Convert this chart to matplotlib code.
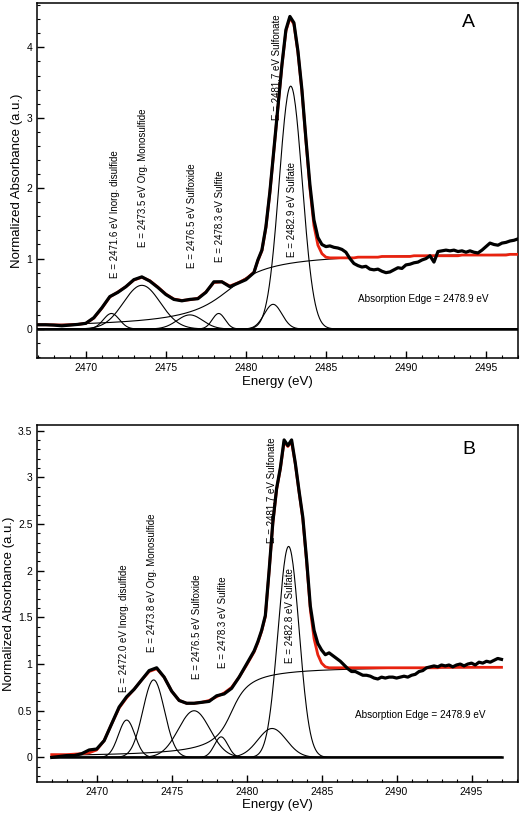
import numpy as np
import matplotlib
matplotlib.use('Agg')
import matplotlib.pyplot as plt
from matplotlib.ticker import MultipleLocator, FuncFormatter

plt.rcParams['font.family'] = ['Liberation Sans', 'DejaVu Sans']

# energy grid of the measured spectra (coarse below the white line, finer above)
energy = np.concatenate([np.arange(2467.0, 2480.51, 0.5), np.arange(2480.75, 2497.01, 0.25)])

# ---- panel A ----
data_a = [0.06, 0.06, 0.055, 0.045, 0.055, 0.065, 0.08, 0.16, 0.30, 0.46, 0.52, 0.60, 0.70, 0.74,
          0.68, 0.59, 0.49, 0.42, 0.40, 0.42, 0.43, 0.52, 0.67, 0.67, 0.60, 0.65, 0.70, 0.80,
          0.98, 1.12, 1.45, 1.95, 2.55, 3.15, 3.75, 4.25, 4.44, 4.35, 3.95, 3.40, 2.70, 2.05,
          1.55, 1.30, 1.20, 1.17, 1.18, 1.16, 1.15, 1.13, 1.09, 1.00, 0.93, 0.90, 0.88, 0.89,
          0.85, 0.84, 0.85, 0.82, 0.80, 0.81, 0.84, 0.87, 0.86, 0.91, 0.92, 0.94, 0.95, 0.98,
          1.00, 1.04, 0.95, 1.10, 1.11, 1.12, 1.11, 1.12, 1.10, 1.11, 1.09, 1.11, 1.09, 1.08,
          1.12, 1.17, 1.22, 1.20, 1.19, 1.22, 1.23, 1.25, 1.26, 1.28]
fit_a = [0.06, 0.06, 0.058, 0.055, 0.058, 0.065, 0.08, 0.155, 0.295, 0.455, 0.525, 0.60, 0.695, 0.735,
         0.685, 0.595, 0.495, 0.425, 0.405, 0.415, 0.435, 0.525, 0.66, 0.67, 0.61, 0.655, 0.71, 0.805,
         0.97, 1.11, 1.44, 1.94, 2.54, 3.14, 3.74, 4.23, 4.42, 4.33, 3.93, 3.38, 2.68, 2.00,
         1.47, 1.19, 1.07, 1.02, 1.01, 1.01, 1.01, 1.01, 1.01, 1.01, 1.01, 1.02, 1.02, 1.02,
         1.02, 1.02, 1.02, 1.03, 1.03, 1.03, 1.03, 1.03, 1.03, 1.03, 1.03, 1.04, 1.04, 1.04,
         1.04, 1.04, 1.04, 1.04, 1.04, 1.04, 1.04, 1.04, 1.04, 1.05, 1.05, 1.05, 1.05, 1.05,
         1.05, 1.05, 1.05, 1.05, 1.05, 1.05, 1.05, 1.06, 1.06, 1.06]
centers_a = [2471.6, 2473.5, 2476.5, 2478.3, 2481.7, 2482.8]
heights_a = [0.22, 0.62, 0.20, 0.22, 0.35, 3.45]
sigmas_a = [0.5, 1.15, 0.8, 0.4, 0.55, 0.72]
edge_a = (2478.9, 1.10, 2.0)  # position, height, width
labels_a = ['E = 2471.6 eV Inorg. disulfide', 'E = 2473.5 eV Org. Monosulfide',
            'E = 2476.5 eV Sulfoxide', 'E = 2478.3 eV Sulfite',
            'E = 2481.7 eV Sulfonate', 'E = 2482.9 eV Sulfate']
label_x_a = [2471.8, 2473.6, 2476.65, 2478.4, 2481.95, 2482.9]
label_y_a = [0.73, 1.17, 0.87, 0.95, 2.97, 1.02]

# ---- panel B ----
data_b = [0.00, 0.01, 0.02, 0.02, 0.04, 0.08, 0.09, 0.18, 0.36, 0.54, 0.65, 0.73, 0.83, 0.93,
          0.96, 0.86, 0.71, 0.61, 0.58, 0.58, 0.59, 0.60, 0.66, 0.68, 0.74, 0.86, 1.00, 1.14,
          1.24, 1.36, 1.52, 2.00, 2.52, 2.88, 3.10, 3.40, 3.34, 3.40, 3.15, 2.85, 2.57, 2.12,
          1.62, 1.36, 1.22, 1.15, 1.10, 1.12, 1.09, 1.06, 1.03, 0.99, 0.95, 0.92, 0.92, 0.90,
          0.88, 0.88, 0.87, 0.85, 0.84, 0.86, 0.85, 0.86, 0.86, 0.85, 0.86, 0.87, 0.86, 0.88,
          0.89, 0.92, 0.93, 0.96, 0.97, 0.98, 0.97, 0.99, 0.98, 0.99, 0.97, 0.99, 1.00, 0.98,
          1.00, 1.01, 0.99, 1.02, 1.01, 1.03, 1.02, 1.04, 1.06, 1.05]
fit_b = [0.03, 0.03, 0.03, 0.035, 0.04, 0.05, 0.08, 0.18, 0.36, 0.53, 0.64, 0.73, 0.83, 0.92,
         0.95, 0.86, 0.71, 0.61, 0.58, 0.58, 0.59, 0.61, 0.65, 0.69, 0.75, 0.86, 0.99, 1.13,
         1.23, 1.35, 1.51, 1.99, 2.51, 2.87, 3.09, 3.38, 3.33, 3.38, 3.14, 2.84, 2.55, 2.10,
         1.58, 1.27, 1.10, 1.01, 0.97, 0.96, 0.96, 0.96, 0.96, 0.96, 0.96, 0.96, 0.96, 0.96,
         0.96, 0.96, 0.96, 0.96, 0.96, 0.96, 0.96, 0.96, 0.96, 0.96, 0.96, 0.96, 0.96, 0.96,
         0.96, 0.96, 0.96, 0.96, 0.96, 0.96, 0.96, 0.965, 0.965, 0.965, 0.965, 0.965, 0.965, 0.965,
         0.965, 0.965, 0.965, 0.965, 0.965, 0.965, 0.965, 0.965, 0.965, 0.965]
centers_b = [2472.0, 2473.8, 2476.5, 2478.3, 2481.7, 2482.8]
heights_b = [0.40, 0.83, 0.50, 0.22, 0.31, 2.26]
sigmas_b = [0.55, 0.72, 1.05, 0.45, 0.95, 0.70]
edge_b = (2479.0, 0.98, 0.9)
labels_b = ['E = 2472.0 eV Inorg. disulfide', 'E = 2473.8 eV Org. Monosulfide',
            'E = 2476.5 eV Sulfoxide', 'E = 2478.3 eV Sulfite',
            'E = 2481.7 eV Sulfonate', 'E = 2482.8 eV Sulfate']
label_x_b = [2471.82, 2473.67, 2476.67, 2478.44, 2481.67, 2482.89]
label_y_b = [0.70, 1.13, 0.84, 0.955, 2.30, 1.01]


def draw_panel(ax, data, fit, centers, heights, sigmas, edge, labels, lx, ly,
               xlim, ylim, ymajor, yminor, letter, letter_xy, edge_xy):
    e = np.linspace(2467, 2497, 700)
    ax.plot([2467, 2497], [0, 0], color='black', lw=1.8, zorder=2)
    for c, h, s in zip(centers, heights, sigmas):
        ax.plot(e, h * np.exp(-0.5 * ((e - c) / s) ** 2), color='black', lw=0.8, zorder=3)
    pos, h, w = edge
    ax.plot(e, h * (0.5 + np.arctan((e - pos) / w) / np.pi), color='black', lw=0.8, zorder=3)
    ax.plot(energy, fit, color='#e8220f', lw=2.0, zorder=4)
    ax.plot(energy, data, color='black', lw=2.3, zorder=5)

    for t, x, y in zip(labels, lx, ly):
        ax.text(x, y, t, rotation=90, ha='center', va='bottom', fontsize=7)
    ax.text(edge_xy[0], edge_xy[1], 'Absorption Edge = 2478.9 eV',
            ha='center', va='center', fontsize=7.2)
    ax.text(letter_xy[0], letter_xy[1], letter, ha='center', va='center', fontsize=14)

    ax.set_xlim(*xlim)
    ax.set_ylim(*ylim)
    ax.xaxis.set_major_locator(MultipleLocator(5))
    ax.xaxis.set_minor_locator(MultipleLocator(1))
    ax.yaxis.set_major_locator(MultipleLocator(ymajor))
    ax.yaxis.set_minor_locator(MultipleLocator(yminor))
    ax.yaxis.set_major_formatter(FuncFormatter(lambda v, p: '%g' % round(v, 2)))
    ax.tick_params(which='both', direction='in', top=False, right=False, labelsize=7.5)
    ax.tick_params(which='major', length=5, width=1)
    ax.tick_params(which='minor', length=2.5, width=0.8)
    for sp in ax.spines.values():
        sp.set_linewidth(1.1)
    ax.set_xlabel('Energy (eV)', fontsize=9.5, labelpad=2)
    ax.set_ylabel('Normalized Absorbance (a.u.)', fontsize=9.5, labelpad=2)


fig = plt.figure(figsize=(5.21, 8.17), dpi=100)
ax1 = fig.add_axes([37 / 521, 0.5615, 481 / 521, 0.4352])
ax2 = fig.add_axes([37.3 / 521, 0.0432, 480.7 / 521, 0.4366])

draw_panel(ax1, data_a, fit_a, centers_a, heights_a, sigmas_a, edge_a, labels_a,
           label_x_a, label_y_a, (2466.95, 2497.0), (-0.416, 4.635), 1, 0.2,
           'A', (2493.9, 4.35), (2491.1, 0.43))
draw_panel(ax2, data_b, fit_b, centers_b, heights_b, sigmas_b, edge_b, labels_b,
           label_x_b, label_y_b, (2466.04, 2498.1), (-0.26, 3.56), 0.5, 0.1,
           'B', (2494.8, 3.30), (2491.55, 0.455))

fig.savefig('out.png', dpi=100)
